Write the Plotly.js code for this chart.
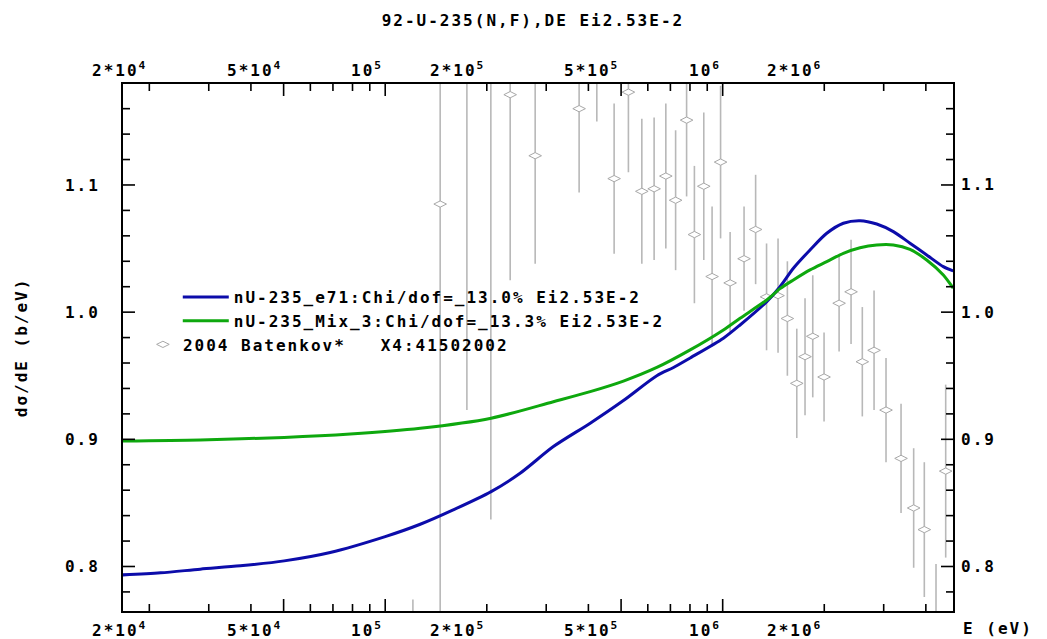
<!DOCTYPE html>
<html>
<head>
<meta charset="utf-8">
<script src="https://cdn.plot.ly/plotly-3.0.1.min.js"></script>
<style>
  html, body { margin: 0; padding: 0; background: #fff; }
  svg text { letter-spacing: 2px; }
</style>
</head>
<body>
<div id="chart" style="width:1047px;height:639px;"></div>
<script>
// Batenkov 2004, EXFOR 41502002: incident energy (eV), value, uncertainty
const expEnergy = [1.208e5, 1.455e5, 1.746e5, 2.056e5, 2.346e5, 2.782e5, 3.755e5, 4.237e5, 4.768e5, 5.256e5,
                   5.760e5, 6.264e5, 6.785e5, 7.253e5, 7.818e5, 8.245e5, 8.790e5, 9.303e5, 9.858e5, 1.052e6,
                   1.157e6, 1.252e6, 1.349e6, 1.459e6, 1.555e6, 1.658e6, 1.754e6, 1.849e6, 1.997e6, 2.213e6,
                   2.401e6, 2.593e6, 2.809e6, 3.048e6, 3.377e6, 3.681e6, 3.958e6, 4.287e6, 4.580e6];
const expValue  = [0.700, 1.085, 1.250, 1.220, 1.171, 1.123, 1.160, 1.215, 1.105, 1.173,
                   1.095, 1.097, 1.107, 1.088, 1.151, 1.061, 1.099, 1.028, 1.118, 1.023,
                   1.042, 1.065, 1.012, 1.013, 0.995, 0.944, 0.965, 0.981, 0.949, 1.007,
                   1.016, 0.961, 0.970, 0.923, 0.885, 0.846, 0.829, 0.752, 0.875];
const expError  = [0.074, 0.330, 0.327, 0.383, 0.146, 0.085, 0.066, 0.065, 0.059, 0.063,
                   0.057, 0.056, 0.057, 0.055, 0.060, 0.054, 0.058, 0.055, 0.060, 0.040,
                   0.041, 0.043, 0.042, 0.045, 0.045, 0.043, 0.046, 0.048, 0.035, 0.038,
                   0.041, 0.043, 0.047, 0.041, 0.043, 0.047, 0.053, 0.050, 0.068];

// Evaluation nU-235_e71
const e71Energy = [1.67e4, 2.16e4, 2.83e4, 3.72e4, 5.02e4, 6.87e4, 1.00e5, 1.27e5, 1.59e5, 2.06e5,
                   2.51e5, 3.15e5, 4.05e5, 5.08e5, 6.38e5, 7.15e5, 8.01e5, 1.005e6, 1.126e6, 1.351e6,
                   1.479e6, 1.620e6, 1.815e6, 2.034e6, 2.278e6, 2.553e6, 2.861e6, 3.204e6, 3.590e6, 4.023e6,
                   4.506e6, 4.820e6];
const e71Value  = [0.7934, 0.7950, 0.7979, 0.8005, 0.8044, 0.8110, 0.8235, 0.8332, 0.8445, 0.8589,
                   0.8733, 0.8943, 0.9127, 0.9305, 0.9500, 0.9565, 0.9640, 0.9795, 0.9899, 1.0083,
                   1.0200, 1.0345, 1.0489, 1.0620, 1.0699, 1.0719, 1.0693, 1.0633, 1.0542, 1.0450,
                   1.0358, 1.0324];

// Evaluation nU-235_Mix_3
const mixEnergy = [1.67e4, 2.83e4, 5.02e4, 7.88e4, 1.27e5, 2.06e5, 3.15e5, 4.05e5, 5.08e5, 6.38e5,
                   8.01e5, 1.005e6, 1.126e6, 1.351e6, 1.479e6, 1.620e6, 1.815e6, 2.034e6, 2.278e6, 2.553e6,
                   2.861e6, 3.204e6, 3.590e6, 4.023e6, 4.506e6, 4.820e6];
const mixValue  = [0.8987, 0.8995, 0.9015, 0.9042, 0.9087, 0.9166, 0.9296, 0.9375, 0.9458, 0.9565,
                   0.9703, 0.9860, 0.9952, 1.0096, 1.0185, 1.0253, 1.0332, 1.0397, 1.0463, 1.0507,
                   1.0528, 1.0528, 1.0494, 1.0410, 1.0292, 1.0188];

// Energy axis ticks
const xLabelVals  = [2e4, 5e4, 1e5, 2e5, 5e5, 1e6, 2e6];
const xLabelTexts = ['2*10<sup>4</sup>', '5*10<sup>4</sup>', '10<sup>5</sup>', '2*10<sup>5</sup>',
                     '5*10<sup>5</sup>', '10<sup>6</sup>', '2*10<sup>6</sup>'];
const xMajorVals  = [5e4, 1e5, 5e5, 1e6];
const xMinorVals  = [2e4, 3e4, 4e4, 6e4, 7e4, 8e4, 9e4, 2e5, 3e5, 4e5, 6e5, 7e5, 8e5, 9e5, 2e6, 3e6, 4e6];

// Value axis ticks
const yMajorVals  = [0.8, 0.9, 1.0, 1.1];
const yMajorTexts = ['0.8', '0.9', '1.0', '1.1'];
const yMinorVals  = [0.78, 0.82, 0.84, 0.86, 0.88, 0.92, 0.94, 0.96, 0.98,
                     1.02, 1.04, 1.06, 1.08, 1.12, 1.14, 1.16];

const FONT = "'DejaVu Sans Mono', 'Liberation Mono', monospace";
const txt = (size) => ({ family: FONT, size: size, color: '#000', weight: 'bold' });

const W = 1047, H = 639;
const M = { l: 123, r: 94, t: 84, b: 28 };
const xRange = [4.223, 6.6825];   // log10(E)
const yRange = [0.765, 1.1794];

// Inward frame ticks as one line trace: px lengths converted into axis units
const perPxX = (xRange[1] - xRange[0]) / (W - M.l - M.r);
const perPxY = (yRange[1] - yRange[0]) / (H - M.t - M.b);
const tickX = [], tickY = [];
const addXTick = (v, len) => {
  tickX.push(v, v, null, v, v, null);
  tickY.push(yRange[0], yRange[0] + len * perPxY, null, yRange[1], yRange[1] - len * perPxY, null);
};
const addYTick = (v, len) => {
  const left = Math.pow(10, xRange[0]), right = Math.pow(10, xRange[1]);
  tickX.push(left, Math.pow(10, xRange[0] + len * perPxX), null, right, Math.pow(10, xRange[1] - len * perPxX), null);
  tickY.push(v, v, null, v, v, null);
};
xMajorVals.forEach(v => addXTick(v, 12));
xMinorVals.forEach(v => addXTick(v, 7));
yMajorVals.forEach(v => addYTick(v, 12));
yMinorVals.forEach(v => addYTick(v, 7));

const traces = [
  {
    x: expEnergy, y: expValue, type: 'scatter', mode: 'markers',
    name: '2004 Batenkov*\u00a0\u00a0\u00a0X4:41502002',
    legend: 'legend2',
    marker: { symbol: 'diamond-wide', size: 9, color: '#ffffff', line: { color: '#a8a8a8', width: 1 } },
    error_y: { type: 'data', array: expError, visible: true, color: '#b8b8b8', thickness: 1.6, width: 0 },
    cliponaxis: true
  },
  {
    x: e71Energy, y: e71Value, type: 'scatter', mode: 'lines',
    name: 'nU-235_e71:Chi/dof=_13.0% Ei2.53E-2',
    line: { color: '#0c0caa', width: 3, shape: 'spline', smoothing: 0.8 }
  },
  {
    x: mixEnergy, y: mixValue, type: 'scatter', mode: 'lines',
    name: 'nU-235_Mix_3:Chi/dof=_13.3% Ei2.53E-2',
    line: { color: '#0ea80e', width: 3, shape: 'spline', smoothing: 0.8 }
  },
  {
    x: tickX, y: tickY, type: 'scatter', mode: 'lines', showlegend: false, hoverinfo: 'skip',
    connectgaps: false, line: { color: '#000', width: 1.6 }
  }
];

const annotations = [];
// energy labels, right-aligned to their ticks, below and above the frame
xLabelVals.forEach((v, i) => {
  annotations.push({ x: Math.log10(v), xref: 'x', y: 0, yref: 'paper', yanchor: 'top', xanchor: 'right',
                     yshift: -6, text: xLabelTexts[i], showarrow: false, font: txt(16) });
  annotations.push({ x: Math.log10(v), xref: 'x', y: 1, yref: 'paper', yanchor: 'bottom', xanchor: 'right',
                     yshift: 2, text: xLabelTexts[i], showarrow: false, font: txt(16) });
});
// value labels on the right-hand frame
yMajorVals.forEach((v, i) => {
  annotations.push({ x: 1, xref: 'paper', y: v, yref: 'y', xanchor: 'left', yanchor: 'middle',
                     xshift: 6, text: yMajorTexts[i], showarrow: false, font: txt(16) });
});
annotations.push({ x: 1.099, xref: 'paper', y: 0, yref: 'paper', xanchor: 'right', yanchor: 'top', yshift: -6,
                   text: 'E (eV)', showarrow: false, font: txt(16) });
annotations.push({ x: -0.122, xref: 'paper', y: 0.5, yref: 'paper', xanchor: 'center', yanchor: 'middle',
                   textangle: -90, text: 'd\u03c3/dE (b/eV)', showarrow: false, font: txt(16) });

const layout = {
  width: W, height: H,
  margin: { l: M.l, r: M.r, t: M.t, b: M.b, pad: 0 },
  paper_bgcolor: '#fff', plot_bgcolor: '#fff',
  showlegend: true,
  title: { text: '92-U-235(N,F),DE Ei2.53E-2', font: txt(16), x: 0.509, xref: 'container', xanchor: 'center',
           y: 0.968, yref: 'container', yanchor: 'middle' },
  xaxis: {
    type: 'log', range: xRange, showgrid: false, zeroline: false,
    showline: true, linecolor: '#000', linewidth: 2, mirror: true,
    ticks: '', showticklabels: false
  },
  yaxis: {
    range: yRange, showgrid: false, zeroline: false,
    showline: true, linecolor: '#000', linewidth: 2, mirror: true,
    tickmode: 'array', tickvals: yMajorVals, ticktext: yMajorTexts, ticks: '',
    tickfont: txt(16), ticklabelstandoff: 18
  },
  legend: {
    x: 0.066, y: 0.628, xanchor: 'left', yanchor: 'top', bgcolor: 'rgba(0,0,0,0)',
    font: txt(16), itemwidth: 46, tracegroupgap: 0, traceorder: 'normal'
  },
  legend2: {
    x: 0.024, y: 0.538, xanchor: 'left', yanchor: 'top', bgcolor: 'rgba(0,0,0,0)',
    font: txt(16), itemwidth: 30
  },
  annotations: annotations
};

Plotly.newPlot('chart', traces, layout, { staticPlot: true, displayModeBar: false });
</script>
</body>
</html>
